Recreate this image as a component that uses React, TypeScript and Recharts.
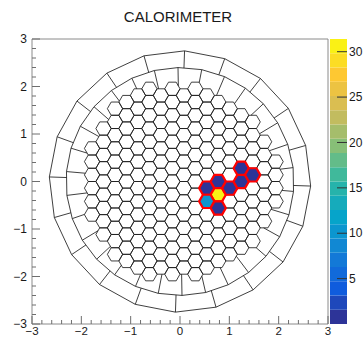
import React from "react";
import { ScatterChart, Scatter, XAxis, YAxis, ReferenceArea, BarChart, Bar } from "recharts";

const TITLE = "CALORIMETER";

// axes
const AXIS_MAJOR = [-3, -2, -1, 0, 1, 2, 3];
const AXIS_SUBDIV = 5;

// hit cells: honeycomb column / row and the energy deposited in each
const HIT_COL = [2, 3, 3, 2, 3, 4, 5, 5, 6];
const HIT_ROW = [-1, -1, -2, -2, -3, -2, -2, -1, -2];
const HIT_E = [1.2, 1.4, 31.4, 10.5, 1.1, 1.3, 1.5, 1.2, 1.4];

// colour scale
const Z_MIN = 0;
const Z_MAX = 31.4;
const Z_TICKS = [5, 10, 15, 20, 25, 30];
const N_CONTOURS = 20;

// ROOT kBird palette
const BIRD_STOPS = [0, 0.125, 0.25, 0.375, 0.5, 0.625, 0.75, 0.875, 1];
const BIRD_R = [0.2082, 0.0592, 0.078, 0.0232, 0.1802, 0.5301, 0.8186, 0.9956, 0.9764];
const BIRD_G = [0.1664, 0.3599, 0.5041, 0.6419, 0.7178, 0.7492, 0.7328, 0.7862, 0.9832];
const BIRD_B = [0.5293, 0.8684, 0.8385, 0.7914, 0.6425, 0.4662, 0.3499, 0.1968, 0.0539];

// detector geometry: honeycomb core + two outer rings of wedge cells
const CELL = 0.155;
const CELL_OFFSET: [number, number] = [0.5, -0.866];
const CORE_R = 2.0;
const LATTICE_SPAN = 16;
const RING_A = { r: 2.31, n: 30, rot: 91 };
const RING_B = { r: 2.65, n: 20, rot: 88 };
const Y_ASPECT = 49.33 / 47.5;

const FONT = "'Liberation Sans', Arial, Helvetica, sans-serif";
const SQ3 = Math.sqrt(3);

type P = [number, number];

function birdColor(f: number) {
  let i = 0;
  while (i < BIRD_STOPS.length - 2 && f > BIRD_STOPS[i + 1]) i++;
  const t = (f - BIRD_STOPS[i]) / (BIRD_STOPS[i + 1] - BIRD_STOPS[i]);
  const c = (a: number[]) => Math.round(255 * (a[i] + t * (a[i + 1] - a[i])));
  return `rgb(${c(BIRD_R)},${c(BIRD_G)},${c(BIRD_B)})`;
}

const BAND_COLORS = Array.from({ length: N_CONTOURS }, (_, i) => birdColor((i + 0.5) / N_CONTOURS));
const BAND_STEP = (Z_MAX - Z_MIN) / N_CONTOURS;

function zColor(v: number) {
  const i = Math.min(N_CONTOURS - 1, Math.max(0, Math.floor((v - Z_MIN) / BAND_STEP)));
  return BAND_COLORS[i];
}

const place = (lx: number, ly: number): P => [
  CELL * (lx + CELL_OFFSET[0]),
  CELL * (ly + CELL_OFFSET[1]),
];

const hexCenter = (q: number, r: number) => place(1.5 * q, SQ3 * (r + q / 2));

function hexCell(q: number, r: number): P[] {
  const cx = 1.5 * q;
  const cy = SQ3 * (r + q / 2);
  const pts: P[] = [];
  for (let j = 0; j < 6; j++) {
    const a = (Math.PI / 3) * j;
    pts.push(place(cx + Math.cos(a), cy + Math.sin(a)));
  }
  return pts;
}

function ringPoly(ring: { r: number; n: number; rot: number }): P[] {
  return Array.from({ length: ring.n }, (_, j) => {
    const a = ((ring.rot + (360 * j) / ring.n) * Math.PI) / 180;
    return [ring.r * Math.cos(a), ring.r * Math.sin(a)] as P;
  });
}

const cross = (a: P, b: P) => a[0] * b[1] - a[1] * b[0];

// outermost hit of a ray from the centre on a set of closed polygons
function rayHit(polys: P[][], ang: number): P {
  const d: P = [Math.cos(ang), Math.sin(ang)];
  let best = 0;
  for (const poly of polys) {
    for (let i = 0; i < poly.length; i++) {
      const a = poly[i];
      const b = poly[(i + 1) % poly.length];
      const e: P = [b[0] - a[0], b[1] - a[1]];
      const den = cross(d, e);
      if (Math.abs(den) < 1e-12) continue;
      const t = cross(a, e) / den;
      const s = cross(a, d) / den;
      if (s >= -1e-9 && s <= 1 + 1e-9 && t > best) best = t;
    }
  }
  return [best * d[0], best * d[1]];
}

type Vtx = { x: number; y: number };
const toData = (poly: P[]): Vtx[] => poly.map(([x, y]) => ({ x, y: y * Y_ASPECT }));

// honeycomb core
const core: P[][] = [];
for (let q = -LATTICE_SPAN; q <= LATTICE_SPAN; q++) {
  for (let r = -LATTICE_SPAN; r <= LATTICE_SPAN; r++) {
    const c = hexCenter(q, r);
    if (Math.hypot(c[0], c[1]) < CORE_R) core.push(hexCell(q, r));
  }
}

const polyA = ringPoly(RING_A);
const polyB = ringPoly(RING_B);
const angleOf = (p: P) => Math.atan2(p[1], p[0]);

const dividersA: P[][] = polyA.map((v) => [rayHit(core, angleOf(v)), v]);
const dividersB: P[][] = polyB.map((v) => [rayHit([polyA], angleOf(v)), v]);

const gridPolys: Vtx[][] = [...core, polyA, polyB, ...dividersA, ...dividersB].map(toData);
const gridPts = gridPolys.flat();
const gridSizes = gridPolys.map((p) => p.length);

const hitPolys = HIT_COL.map((q, i) => toData(hexCell(q, HIT_ROW[i])));
const hitPts = hitPolys.flat();
const hitSizes = hitPolys.map((p) => p.length);

function subPaths(points: { x: number; y: number }[], sizes: number[]) {
  const out: string[] = [];
  let k = 0;
  for (const n of sizes) {
    let d = "";
    for (let i = 0; i < n; i++) {
      const p = points[k + i];
      d += (i ? "L" : "M") + p.x.toFixed(2) + "," + p.y.toFixed(2);
    }
    out.push(n > 2 ? d + "Z" : d);
    k += n;
  }
  return out;
}

const gridLine = (props: any) => (
  <path
    d={subPaths(props.points, gridSizes).join("")}
    fill="none"
    stroke="#1e1e1e"
    strokeWidth={0.85}
    strokeLinejoin="round"
  />
);

const hitLine = (props: any) => (
  <g>
    {subPaths(props.points, hitSizes).map((d, i) => (
      <path key={i} d={d} fill={zColor(HIT_E[i])} stroke="#ff0000" strokeWidth={2.2} strokeLinejoin="round" />
    ))}
  </g>
);

const AXIS_TICKS: number[] = [];
for (let i = 0; i < AXIS_MAJOR.length - 1; i++) {
  for (let j = 0; j < AXIS_SUBDIV; j++) {
    AXIS_TICKS.push(Math.round((AXIS_MAJOR[i] + (j * (AXIS_MAJOR[i + 1] - AXIS_MAJOR[i])) / AXIS_SUBDIV) * 10) / 10);
  }
}
AXIS_TICKS.push(AXIS_MAJOR[AXIS_MAJOR.length - 1]);

const isMajor = (v: number) => AXIS_MAJOR.some((m) => Math.abs(m - v) < 1e-6);
const fmt = (v: number) => (v < 0 ? "\u2212" + Math.abs(v) : String(v));

const TICK_COLOR = "#6e6e6e";
const LABEL_COLOR = "#1a1a1a";

function XTick({ x, y, payload }: any) {
  const v = payload.value;
  const major = isMajor(v);
  const y0 = y - 3;
  return (
    <g>
      <line x1={x} x2={x} y1={y0} y2={y0 - (major ? 8 : 4)} stroke={TICK_COLOR} strokeWidth={1} />
      {major && (
        <text x={x} y={y} dy="0.71em" textAnchor="middle" fontSize={11.5} fontFamily={FONT} fill={LABEL_COLOR}>
          {fmt(v)}
        </text>
      )}
    </g>
  );
}

function YTick({ x, y, payload }: any) {
  const v = payload.value;
  const major = isMajor(v);
  const x0 = x + 5;
  return (
    <g>
      <line x1={x0} x2={x0 + (major ? 8 : 4)} y1={y} y2={y} stroke={TICK_COLOR} strokeWidth={1} />
      {major && (
        <text x={x} y={y} dy="0.355em" textAnchor="end" fontSize={12} fontFamily={FONT} fill={LABEL_COLOR}>
          {fmt(v)}
        </text>
      )}
    </g>
  );
}

function ZTick({ x, y, payload }: any) {
  const x0 = x - 2;
  return (
    <g>
      <line x1={x0} x2={x0 - 10} y1={y} y2={y} stroke="#333" strokeWidth={1} />
      <text x={x} y={y} dy="0.355em" textAnchor="start" fontSize={12} fontFamily={FONT} fill={LABEL_COLOR}>
        {payload.value}
      </text>
    </g>
  );
}

const bandRow: Record<string, number | string> = { name: "z" };
BAND_COLORS.forEach((_, i) => {
  bandRow["b" + i] = BAND_STEP;
});

export default function App() {
  return (
    <div
      style={{
        position: "absolute",
        left: 0,
        top: 0,
        width: 364,
        height: 337,
        background: "#fff",
        overflow: "hidden",
        fontFamily: FONT,
      }}
    >
      <div
        style={{
          position: "absolute",
          left: 0,
          top: 9,
          width: 356,
          textAlign: "center",
          fontSize: 15,
          lineHeight: "15px",
          color: "#1a1a1a",
        }}
      >
        {TITLE}
      </div>

      <div style={{ position: "absolute", left: 0, top: 0 }}>
        <ScatterChart width={364} height={337} margin={{ top: 39, right: 36, bottom: 0, left: 0 }}>
          <XAxis
            type="number"
            dataKey="x"
            domain={[-3, 3]}
            ticks={AXIS_TICKS}
            interval={0}
            allowDataOverflow
            height={13}
            tickSize={0}
            tickMargin={3}
            axisLine={false}
            tick={(p: any) => <XTick {...p} />}
          />
          <YAxis
            type="number"
            dataKey="y"
            domain={[-3, 3]}
            ticks={AXIS_TICKS}
            interval={0}
            allowDataOverflow
            width={32}
            tickSize={0}
            tickMargin={5}
            axisLine={false}
            tick={(p: any) => <YTick {...p} />}
          />
          <ReferenceArea x1={-3} x2={3} y1={-3} y2={3} fill="none" stroke="#8a8a8a" strokeWidth={1} />
          <Scatter data={gridPts} line={gridLine} shape={() => <g />} isAnimationActive={false} />
          <Scatter data={hitPts} line={hitLine} shape={() => <g />} isAnimationActive={false} />
        </ScatterChart>
      </div>

      <div style={{ position: "absolute", left: 330, top: 0 }}>
        <BarChart
          width={34}
          height={337}
          data={[bandRow]}
          margin={{ top: 39, right: 0, bottom: 13, left: 0 }}
          barCategoryGap={0}
          barGap={0}
        >
          <XAxis dataKey="name" hide />
          <YAxis
            orientation="right"
            type="number"
            domain={[Z_MIN, Z_MAX]}
            ticks={Z_TICKS}
            interval={0}
            allowDataOverflow
            width={17}
            tickSize={0}
            tickMargin={2}
            axisLine={false}
            tick={(p: any) => <ZTick {...p} />}
          />
          {BAND_COLORS.map((c, i) => (
            <Bar key={i} dataKey={"b" + i} stackId="z" fill={c} isAnimationActive={false} />
          ))}
        </BarChart>
      </div>
    </div>
  );
}
